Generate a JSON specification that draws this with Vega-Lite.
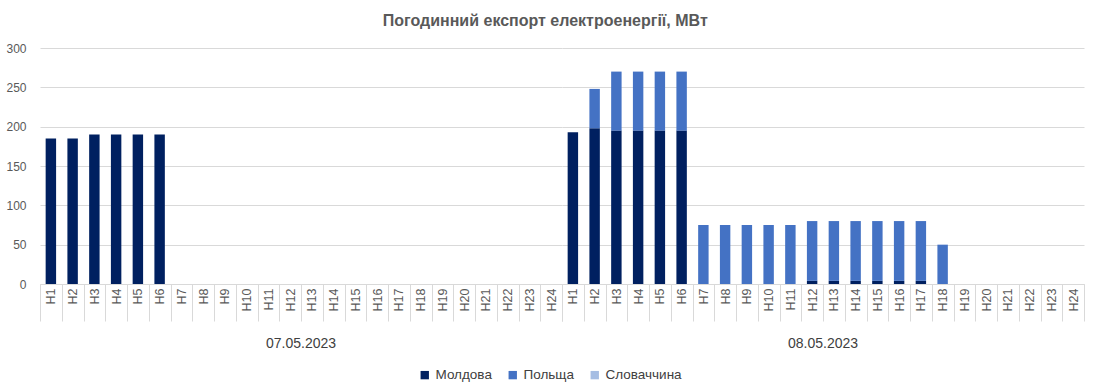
{
  "$schema": "https://vega.github.io/schema/vega-lite/v6.json",
  "title": {"text": "Погодинний експорт електроенергії, МВт", "font": "Liberation Sans", "fontSize": 16, "fontWeight": "bold", "color": "#595959", "offset": 13, "anchor": "middle"},
  "padding": {"left": 5, "right": 8, "top": 13, "bottom": 5},
  "data": {"values": [
    {"d": "07.05.2023", "h": "H1", "c": "Молдова", "v": 185},
    {"d": "07.05.2023", "h": "H2", "c": "Молдова", "v": 185},
    {"d": "07.05.2023", "h": "H3", "c": "Молдова", "v": 190},
    {"d": "07.05.2023", "h": "H4", "c": "Молдова", "v": 190},
    {"d": "07.05.2023", "h": "H5", "c": "Молдова", "v": 190},
    {"d": "07.05.2023", "h": "H6", "c": "Молдова", "v": 190},
    {"d": "08.05.2023", "h": "H1", "c": "Молдова", "v": 193},
    {"d": "08.05.2023", "h": "H2", "c": "Молдова", "v": 198},
    {"d": "08.05.2023", "h": "H2", "c": "Польща", "v": 50},
    {"d": "08.05.2023", "h": "H3", "c": "Молдова", "v": 195},
    {"d": "08.05.2023", "h": "H3", "c": "Польща", "v": 75},
    {"d": "08.05.2023", "h": "H4", "c": "Молдова", "v": 195},
    {"d": "08.05.2023", "h": "H4", "c": "Польща", "v": 75},
    {"d": "08.05.2023", "h": "H5", "c": "Молдова", "v": 195},
    {"d": "08.05.2023", "h": "H5", "c": "Польща", "v": 75},
    {"d": "08.05.2023", "h": "H6", "c": "Молдова", "v": 195},
    {"d": "08.05.2023", "h": "H6", "c": "Польща", "v": 75},
    {"d": "08.05.2023", "h": "H7", "c": "Польща", "v": 75},
    {"d": "08.05.2023", "h": "H8", "c": "Польща", "v": 75},
    {"d": "08.05.2023", "h": "H9", "c": "Польща", "v": 75},
    {"d": "08.05.2023", "h": "H10", "c": "Польща", "v": 75},
    {"d": "08.05.2023", "h": "H11", "c": "Польща", "v": 75},
    {"d": "08.05.2023", "h": "H12", "c": "Молдова", "v": 4},
    {"d": "08.05.2023", "h": "H12", "c": "Польща", "v": 76},
    {"d": "08.05.2023", "h": "H13", "c": "Молдова", "v": 4},
    {"d": "08.05.2023", "h": "H13", "c": "Польща", "v": 76},
    {"d": "08.05.2023", "h": "H14", "c": "Молдова", "v": 4},
    {"d": "08.05.2023", "h": "H14", "c": "Польща", "v": 76},
    {"d": "08.05.2023", "h": "H15", "c": "Молдова", "v": 4},
    {"d": "08.05.2023", "h": "H15", "c": "Польща", "v": 76},
    {"d": "08.05.2023", "h": "H16", "c": "Молдова", "v": 4},
    {"d": "08.05.2023", "h": "H16", "c": "Польща", "v": 76},
    {"d": "08.05.2023", "h": "H17", "c": "Молдова", "v": 4},
    {"d": "08.05.2023", "h": "H17", "c": "Польща", "v": 76},
    {"d": "08.05.2023", "h": "H18", "c": "Польща", "v": 50},
    {"d": "08.05.2023", "h": "H18", "c": "Словаччина", "v": 0}
  ]},
  "facet": {
    "column": {"field": "d", "type": "nominal", "title": null,
      "header": {"labelOrient": "bottom", "labelFont": "Liberation Sans", "labelFontSize": 14, "labelColor": "#404040", "labelPadding": 15}}
  },
  "spacing": 0,
  "spec": {
    "width": 522,
    "height": 236,
    "mark": {"type": "bar", "width": {"band": 0.48}},
    "encoding": {
      "x": {"field": "h", "type": "nominal", "title": null,
        "scale": {"domain": ["H1","H2","H3","H4","H5","H6","H7","H8","H9","H10","H11","H12","H13","H14","H15","H16","H17","H18","H19","H20","H21","H22","H23","H24"], "paddingInner": 0, "paddingOuter": 0},
        "axis": {"labelAngle": 270, "labelFont": "Liberation Sans", "labelFontSize": 12.5, "labelColor": "#595959", "labelPadding": -33, "tickBand": "extent", "tickSize": 37, "tickColor": "#d9d9d9", "domainColor": "#d9d9d9"}},
      "y": {"field": "v", "type": "quantitative", "title": null, "stack": "zero",
        "scale": {"domain": [0, 300]},
        "axis": {"values": [0,50,100,150,200,250,300], "labelFont": "Liberation Sans", "labelFontSize": 12, "labelColor": "#595959", "ticks": false, "domain": false, "gridColor": "#d9d9d9", "labelPadding": 14}},
      "color": {"field": "c", "type": "nominal", "title": null,
        "scale": {"domain": ["Молдова", "Польща", "Словаччина"], "range": ["#002060", "#4472C4", "#A5BDE3"]},
        "legend": {"orient": "none", "legendX": 378, "legendY": 320, "direction": "horizontal", "symbolType": "square", "symbolSize": 70, "labelFont": "Liberation Sans", "labelFontSize": 13.5, "labelColor": "#404040", "columnPadding": 14, "symbolStrokeWidth": 0}},
      "order": {"field": "c", "sort": "ascending"}
    }
  },
  "config": {"view": {"stroke": null}, "background": "white"}
}
